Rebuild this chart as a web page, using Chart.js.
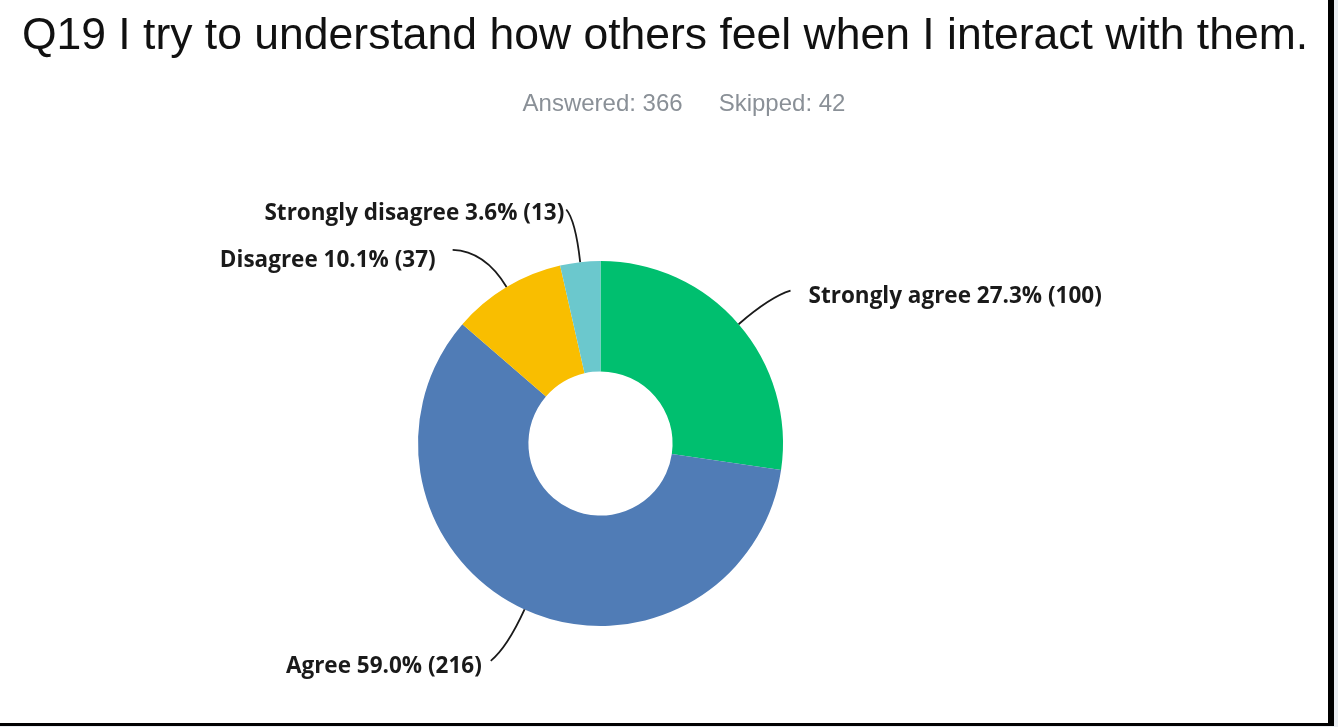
<!DOCTYPE html>
<html>
<head>
<meta charset="utf-8">
<script src="https://cdn.jsdelivr.net/npm/chart.js@4.4.1/dist/chart.umd.min.js"></script>
<style>
  html, body { margin: 0; padding: 0; background: #e9edf2; }
  #frame {
    position: relative;
    width: 1328px; height: 723px;
    background: #fff;
    border-right: 6px solid #000;
    border-bottom: 3px solid #000;
  }
  #title {
    position: absolute; left: 0; top: 9px; width: 1330px;
    text-align: center;
    font: 44.5px "Liberation Sans", Arial, sans-serif;
    color: #111;
    white-space: nowrap;
  }
  #subtitle {
    position: absolute; left: 20px; top: 89px; width: 1328px;
    text-align: center;
    font: 24px "Liberation Sans", Arial, sans-serif;
    color: #8a9097;
  }
  #subtitle span { margin: 0 18px; }
  canvas { position: absolute; left: 0; top: 0; }
</style>
</head>
<body>
<div id="frame">
  <canvas id="pie" width="1328" height="723"></canvas>
  <div id="title">Q19 I try to understand how others feel when I interact with them.</div>
  <div id="subtitle"><span>Answered: 366</span><span>Skipped: 42</span></div>
</div>
<script>
var CATEGORIES = ['Strongly agree', 'Agree', 'Disagree', 'Strongly disagree'];
var COUNTS = [100, 216, 37, 13];
var PERCENTS = ['27.3%', '59.0%', '10.1%', '3.6%'];
var COLORS = ['#00bf6f', '#507cb6', '#f9be00', '#6bc8cd'];

// leader line end nudges and text offsets, per slice
var LINE_NUDGE = [[5, 7], [-8, -5], [-22, 16], [-7, 9]];
var TEXT_OFFSET = [[18, 6], [-9, 6], [-17, 11], [-2, 4]];

var leaderLabels = {
    id: 'leaderLabels',
    afterDatasetsDraw: function(chart) {
        var ctx = chart.ctx;
        var meta = chart.getDatasetMeta(0);
        ctx.save();
        ctx.font = 'bold 22.5px "Open Sans", sans-serif';
        ctx.fillStyle = '#1a1a1a';
        ctx.strokeStyle = '#1a1a1a';
        ctx.lineWidth = 1.8;
        ctx.textBaseline = 'middle';
        meta.data.forEach(function(arc, i) {
            var mid = (arc.startAngle + arc.endAngle) / 2;
            var cos = Math.cos(mid), sin = Math.sin(mid);
            var r = arc.outerRadius;
            var sx = arc.x + r * cos, sy = arc.y + r * sin;
            var cx = arc.x + (r + 42) * cos, cy = arc.y + (r + 42) * sin;
            var ex = arc.x + (r + 62) * cos + LINE_NUDGE[i][0];
            var ey = arc.y + (r + 62) * sin + LINE_NUDGE[i][1];
            ctx.beginPath();
            ctx.moveTo(sx, sy);
            ctx.quadraticCurveTo(cx, cy, ex, ey);
            ctx.stroke();
            var text = CATEGORIES[i] + ' ' + PERCENTS[i] + ' (' + COUNTS[i] + ')';
            ctx.textAlign = cos >= 0 ? 'left' : 'right';
            ctx.fillText(text, ex + TEXT_OFFSET[i][0], ey + TEXT_OFFSET[i][1]);
        });
        ctx.restore();
    }
};

var pieChart = new Chart(document.getElementById('pie'), {
    type: 'doughnut',
    data: {
        labels: CATEGORIES,
        datasets: [{
            data: COUNTS,
            backgroundColor: COLORS,
            borderWidth: 0
        }]
    },
    options: {
        responsive: false,
        animation: false,
        cutout: '39.5%',
        layout: { padding: { top: 261, bottom: 97, left: 418, right: 545 } },
        plugins: {
            legend: { display: false },
            tooltip: { enabled: false }
        }
    },
    plugins: [leaderLabels]
});
</script>
</body>
</html>
